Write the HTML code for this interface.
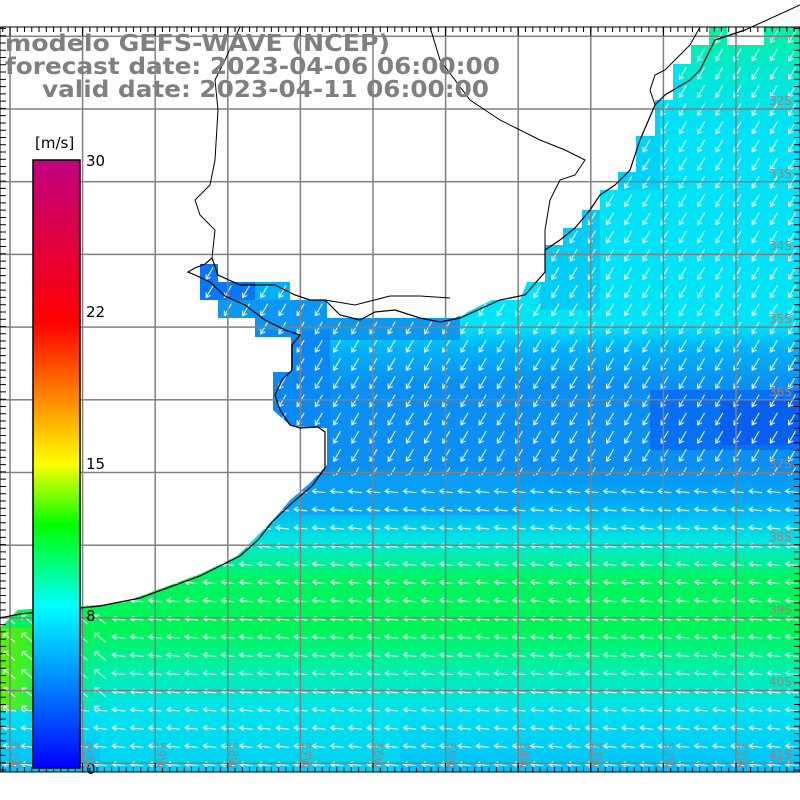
<!DOCTYPE html>
<html><head><meta charset="utf-8"><style>html,body{margin:0;padding:0;background:#fff}svg{display:block}</style></head>
<body>
<svg width="800" height="800" xmlns="http://www.w3.org/2000/svg">
<defs>
<clipPath id="sea"><polygon points="0,800 0,628 18,610 100,605 130,600 200,574 237,556 255,538 273,520 290,500 310,483 327,465 327,428 291,426 273,410 273,372 291,372 291,337 255,337 255,318 218,318 218,300 200,300 200,264 218,264 218,282 290,282 290,300 327,300 327,318 455,318 492,300 520,300 527,282 545,282 545,245 563,245 563,228 582,228 582,210 600,210 600,190 618,190 618,172 636,172 636,136 655,136 655,100 673,100 673,64 691,64 691,45 709,45 709,27 727,27 727,45 764,45 764,27 800,27 800,772 0,772"/></clipPath>
<linearGradient id="bg" gradientUnits="userSpaceOnUse" x1="0" y1="27" x2="0" y2="772">
<stop offset="0" stop-color="#00e0f8"/>
<stop offset="0.40" stop-color="#00e4f8"/>
<stop offset="0.43" stop-color="#00b4fa"/>
<stop offset="0.48" stop-color="#0c8ff2"/>
<stop offset="0.59" stop-color="#0c8ff2"/>
<stop offset="0.645" stop-color="#00b0fa"/>
<stop offset="0.69" stop-color="#00e8e0"/>
<stop offset="0.74" stop-color="#00f460"/>
<stop offset="0.81" stop-color="#00f458"/>
<stop offset="0.86" stop-color="#00f0a8"/>
<stop offset="0.92" stop-color="#00e0f0"/>
<stop offset="1" stop-color="#00c0f8"/>
</linearGradient>
<linearGradient id="tr" x1="0" y1="0" x2="0" y2="1"><stop offset="0" stop-color="#00f49c"/><stop offset="1" stop-color="#00e8d8" stop-opacity="0"/></linearGradient>
<linearGradient id="lb" x1="1" y1="0" x2="0" y2="0"><stop offset="0" stop-color="#00f040" stop-opacity="0"/><stop offset="1" stop-color="#60f000"/></linearGradient>
<pattern id="arrSW" patternUnits="userSpaceOnUse" x="0" y="27.7" width="18.2" height="18.2">
<path d="M13,3 L6,15 M6,10 L6,15 L10.5,13" stroke="#fff" stroke-width="1" fill="none"/></pattern>
<pattern id="arrW" patternUnits="userSpaceOnUse" x="0" y="27.7" width="18.2" height="18.2">
<path d="M16,10 L3,8.5 M7,6 L3,8.5 L7,11" stroke="#fff" stroke-width="1" fill="none"/></pattern>
<pattern id="arrNW" patternUnits="userSpaceOnUse" x="0" y="27.7" width="18.2" height="18.2">
<path d="M15,14 L4,5 M4,9.5 L4,5 L8.5,5" stroke="#fff" stroke-width="1" fill="none"/></pattern>
<pattern id="grid" patternUnits="userSpaceOnUse" x="9.25" y="35.55" width="72.6" height="72.7">
<rect x="0" y="0" width="1.5" height="72.7" fill="#808080"/><rect x="0" y="0" width="72.6" height="1.5" fill="#808080"/></pattern>
<linearGradient id="cb" x1="0" y1="1" x2="0" y2="0">
<stop offset="0" stop-color="#0000ff"/><stop offset="0.133" stop-color="#0080ff"/><stop offset="0.267" stop-color="#00ffff"/><stop offset="0.4" stop-color="#00ff00"/><stop offset="0.5" stop-color="#ffff00"/><stop offset="0.6" stop-color="#ff9000"/><stop offset="0.733" stop-color="#ff0000"/><stop offset="1" stop-color="#c00080"/>
</linearGradient>
</defs>
<rect width="800" height="800" fill="#fff"/>
<g clip-path="url(#sea)">
<rect x="0" y="27" width="800" height="745" fill="url(#bg)"/>
<rect x="680" y="27" width="120" height="110" fill="url(#tr)"/>
<rect x="540" y="170" width="60" height="140" fill="#00c4fa" opacity="0.7"/>
<rect x="600" y="100" width="60" height="90" fill="#00c8fa" opacity="0.6"/>
<rect x="0" y="250" width="345" height="90" fill="#00b0f8"/>
<rect x="0" y="250" width="255" height="70" fill="#0878f6"/>
<rect x="0" y="300" width="460" height="40" fill="#0a98f4"/>
<rect x="0" y="330" width="330" height="150" fill="#0a88f4"/>
<rect x="650" y="390" width="150" height="60" fill="#0870f2"/>
<rect x="720" y="400" width="80" height="45" fill="#0560f0"/>
<rect x="300" y="475" width="220" height="40" fill="#0aa0f4" opacity="0.7"/>
<rect x="0" y="600" width="60" height="18" fill="#00b0f8"/>
<rect x="100" y="700" width="300" height="72" fill="#00e8e8" opacity="0.4"/>
<rect x="0" y="27" width="800" height="448" fill="url(#arrSW)"/>
<rect x="0" y="475" width="800" height="297" fill="url(#arrW)"/>
<rect x="0" y="610" width="110" height="100" fill="url(#bg)"/>
<rect x="0" y="628" width="110" height="82" fill="url(#lb)"/>
<rect x="0" y="610" width="110" height="100" fill="url(#arrNW)"/>
</g>
<rect x="0" y="27" width="800" height="745" fill="url(#grid)"/>
<path fill="none" stroke="#000" stroke-width="1.2" d="M0,618 L20,614 L100,606 L140,598 L200,576 L240,556 L258,540 L272,522 L292,503 L312,486 L325,468 L325,432 L318,427 L300,428 L290,425 L280,410 L275,395 L282,380 L292,370 L292,345 L300,335 L285,330 L265,320 L245,305 L225,296 L210,282 L195,275 L188,272 L195,268 L205,264 L212,258 L218,275 L240,285 L275,285 L295,295 L310,300 L325,300 L340,315 L360,320 L375,312 L395,310 L420,318 L440,322 L460,318 L500,300 L510,298 L525,295 L545,272 L545,250 L560,240 L575,228 L590,210 L600,195 L615,185 L630,170 L640,140 L655,105 L665,95 L690,80 L700,70 L715,40 L745,30"/>
<path fill="none" stroke="#000" stroke-width="1" d="M212,258 L215,230 L200,215 L195,200 L210,185 L215,160 L218,110 L215,80 L225,60 L240,27 M325,300 L355,305 L390,296 L420,296 L450,298 M430,27 L440,60 L470,100 L500,120 L540,140 L565,150 L585,160 L575,175 L560,180 L550,200 L545,230 L545,250 M655,105 L650,90 L655,75 L665,70 L680,55 L690,45 L700,27 M745,30 L800,5"/>
<rect x="0" y="27" width="800" height="745" fill="none" stroke="#000" stroke-width="1"/>
<g stroke="#000" fill="none">
<line x1="0" y1="29.5" x2="800" y2="29.5" stroke-width="5" stroke-dasharray="1 6.26" stroke-dashoffset="-9.5"/>
<line x1="0" y1="31.5" x2="800" y2="31.5" stroke-width="9" stroke-dasharray="1 71.6" stroke-dashoffset="-9.5"/>
<line x1="0" y1="769.5" x2="800" y2="769.5" stroke-width="5" stroke-dasharray="1 6.26" stroke-dashoffset="-9.5"/>
<line x1="0" y1="767.5" x2="800" y2="767.5" stroke-width="9" stroke-dasharray="1 71.6" stroke-dashoffset="-9.5"/>
<line x1="3" y1="27" x2="3" y2="772" stroke-width="6" stroke-dasharray="1 6.27" stroke-dashoffset="-8.2"/>
<line x1="797" y1="27" x2="797" y2="772" stroke-width="6" stroke-dasharray="1 6.27" stroke-dashoffset="-8.2"/>
</g>
<g font-family="'DejaVu Sans',sans-serif" font-weight="bold" font-size="23" fill="#808080">
<text x="5" y="51" textLength="385" lengthAdjust="spacingAndGlyphs">modelo GEFS-WAVE (NCEP)</text>
<text x="5" y="74" textLength="495" lengthAdjust="spacingAndGlyphs">forecast date: 2023-04-06 06:00:00</text>
<text x="42" y="97" textLength="447" lengthAdjust="spacingAndGlyphs">valid date: 2023-04-11 06:00:00</text>
</g>
<rect x="33" y="160" width="47" height="608" fill="url(#cb)" stroke="#000" stroke-width="1.5"/>
<g font-family="'DejaVu Sans',sans-serif" font-size="15" fill="#000">
<text x="35" y="148">[m/s]</text>
<text x="86" y="166">30</text><text x="86" y="317">22</text><text x="86" y="469">15</text><text x="86" y="621">8</text><text x="86" y="774">0</text>
</g>
<g font-family="'DejaVu Sans',sans-serif" font-size="12" fill="#a08080">
<text x="769" y="105">32S</text><text x="769" y="178">33S</text><text x="769" y="250">34S</text><text x="769" y="323">35S</text><text x="769" y="396">36S</text><text x="769" y="468">37S</text><text x="769" y="541">38S</text><text x="769" y="614">39S</text><text x="769" y="686">40S</text><text x="769" y="759">41S</text>
</g>
<g font-family="'DejaVu Sans',sans-serif" font-size="12" fill="#a08080">
<text transform="translate(11,742) rotate(90)">61W</text>
<text transform="translate(84,742) rotate(90)">60W</text>
<text transform="translate(157,742) rotate(90)">59W</text>
<text transform="translate(229,742) rotate(90)">58W</text>
<text transform="translate(302,742) rotate(90)">57W</text>
<text transform="translate(374,742) rotate(90)">56W</text>
<text transform="translate(447,742) rotate(90)">55W</text>
<text transform="translate(520,742) rotate(90)">54W</text>
<text transform="translate(592,742) rotate(90)">53W</text>
<text transform="translate(665,742) rotate(90)">52W</text>
<text transform="translate(738,742) rotate(90)">51W</text>
</g>
</svg>
</body></html>
